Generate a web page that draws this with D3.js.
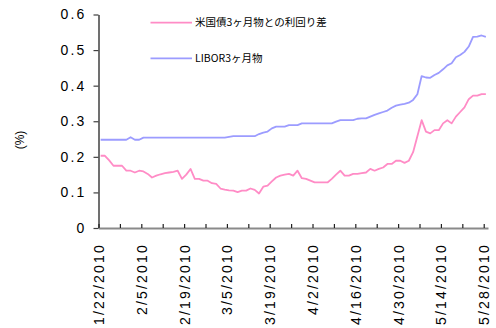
<!DOCTYPE html>
<html>
<head>
<meta charset="utf-8">
<script src="https://cdn.jsdelivr.net/npm/d3@7"></script>
<style>
  body { margin: 0; background: #fff; }
  svg { display: block; }
</style>
</head>
<body>
<svg id="chart" width="496" height="328"></svg>
<script>
// Business days, 2010
const dates = [
  "1/22","1/25","1/26","1/27","1/28","1/29",
  "2/1","2/2","2/3","2/4","2/5","2/8","2/9","2/10","2/11","2/12",
  "2/15","2/16","2/17","2/18","2/19","2/22","2/23","2/24","2/25","2/26",
  "3/1","3/2","3/3","3/4","3/5","3/8","3/9","3/10","3/11","3/12",
  "3/15","3/16","3/17","3/18","3/19","3/22","3/23","3/24","3/25","3/26",
  "3/29","3/30","3/31",
  "4/1","4/2","4/5","4/6","4/7","4/8","4/9","4/12","4/13","4/14","4/15","4/16",
  "4/19","4/20","4/21","4/22","4/23","4/26","4/27","4/28","4/29","4/30",
  "5/3","5/4","5/5","5/6","5/7","5/10","5/11","5/12","5/13","5/14",
  "5/17","5/18","5/19","5/20","5/21","5/24","5/25","5/26","5/27","5/28"
];

// Spread over 3-month Treasury bills (%)
const spread = [
  0.203,0.203,0.190,0.175,0.175,0.175,0.161,0.161,0.156,0.161,
  0.159,0.152,0.142,0.147,0.151,0.154,0.156,0.158,0.161,0.138,
  0.150,0.166,0.138,0.138,0.133,0.133,0.126,0.124,0.111,0.108,
  0.106,0.105,0.101,0.105,0.105,0.111,0.107,0.097,0.116,0.119,
  0.131,0.142,0.147,0.150,0.152,0.147,0.161,0.140,0.138,0.133,
  0.128,0.128,0.128,0.128,0.138,0.150,0.161,0.147,0.147,0.152,
  0.152,0.154,0.156,0.166,0.161,0.166,0.170,0.180,0.180,0.189,
  0.189,0.183,0.189,0.213,0.258,0.303,0.271,0.266,0.275,0.275,
  0.294,0.303,0.294,0.313,0.326,0.339,0.362,0.372,0.372,0.376,
  0.376
];

// 3-month USD LIBOR (%)
const libor = [
  0.248,0.248,0.248,0.248,0.248,0.248,0.248,0.255,0.248,0.248,
  0.254,0.254,0.254,0.254,0.254,0.254,0.254,0.254,0.254,0.254,
  0.254,0.254,0.254,0.254,0.254,0.254,0.254,0.254,0.254,0.254,
  0.256,0.258,0.258,0.258,0.258,0.258,0.258,0.264,0.268,0.271,
  0.280,0.285,0.285,0.285,0.289,0.289,0.289,0.294,0.294,0.294,
  0.294,0.294,0.294,0.294,0.294,0.299,0.303,0.303,0.303,0.303,
  0.307,0.308,0.308,0.313,0.318,0.322,0.326,0.330,0.338,0.344,
  0.347,0.349,0.352,0.360,0.376,0.427,0.423,0.422,0.430,0.436,
  0.446,0.457,0.463,0.480,0.486,0.495,0.510,0.537,0.538,0.541,
  0.537
];

const yTicks = [0, 0.1, 0.2, 0.3, 0.4, 0.5, 0.6];
const seriesNames = ["米国債3ヶ月物との利回り差", "LIBOR3ヶ月物"];
const seriesColors = ["#ff8cc6", "#9c9cff"];
const yTitle = "(%)";

const svg = d3.select("#chart");
const plotLeft = 98.5, plotRight = 488, plotTop = 14.5, plotBottom = 228;

// category slots: one per business day, ticks on slot boundaries
const x = d3.scaleLinear().domain([0, dates.length]).range([plotLeft, plotRight]);
const y = d3.scaleLinear().domain([0, 0.6]).range([plotBottom, plotTop]);
const numFont = "'Liberation Sans', Arial, sans-serif";

// y axis
const yAxis = svg.append("g")
  .attr("transform", `translate(${plotLeft},0)`)
  .call(d3.axisLeft(y).tickValues(yTicks).tickSizeInner(5).tickSizeOuter(0)
    .tickPadding(7)
    .tickFormat(d => d === 0 ? "0" : d3.format(".1f")(d)));
yAxis.select(".domain").attr("stroke", "#404040").attr("stroke-width", 1.5);
yAxis.selectAll(".tick line").attr("stroke", "#404040").attr("stroke-width", 1.2);
yAxis.selectAll(".tick text")
  .attr("fill", "#000")
  .style("font-family", numFont)
  .style("font-size", "14px")
  .style("letter-spacing", "2.2px");

// x axis
const xAxis = svg.append("g")
  .attr("transform", `translate(0,${plotBottom})`)
  .call(d3.axisBottom(x).tickValues(d3.range(0, dates.length, 5))
    .tickSizeInner(-4).tickSizeOuter(0)
    .tickFormat(i => i % 10 === 0 ? dates[i] + "/2010" : ""));
xAxis.select(".domain").attr("stroke", "#8a8a8a").attr("stroke-width", 2);
xAxis.selectAll(".tick line").attr("stroke", "#202020").attr("stroke-width", 1.2);
xAxis.selectAll(".tick text")
  .attr("fill", "#000")
  .attr("transform", "rotate(-90)")
  .attr("x", -15)
  .attr("y", 0)
  .attr("dy", "0.36em")
  .style("text-anchor", "end")
  .style("font-family", numFont)
  .style("font-size", "14px")
  .style("letter-spacing", "2.2px");

// y title
svg.append("text")
  .attr("transform", "translate(20,140) rotate(-90)")
  .attr("text-anchor", "middle")
  .attr("dy", "0.35em")
  .style("font-family", numFont)
  .style("font-size", "12px")
  .text(yTitle);

// series lines
const line = d3.line()
  .x((d, i) => x(i + 0.5))
  .y(d => y(d));

[spread, libor].forEach((s, k) => {
  svg.append("path")
    .datum(s)
    .attr("fill", "none")
    .attr("stroke", seriesColors[k])
    .attr("stroke-width", 1.8)
    .attr("stroke-linejoin", "round")
    .attr("d", line);
});

// legend
const legendY = [22.7, 58.3];
const legend = svg.append("g");
seriesNames.forEach((name, k) => {
  legend.append("line")
    .attr("x1", 150.5).attr("x2", 192)
    .attr("y1", legendY[k]).attr("y2", legendY[k])
    .attr("stroke", seriesColors[k]).attr("stroke-width", 1.8);
  legend.append("text")
    .attr("x", 195).attr("y", legendY[k])
    .attr("dy", "0.36em")
    .style("font-family", "'Noto Sans CJK JP', sans-serif")
    .style("font-size", "10.5px")
    .attr("fill", "#000")
    .text(name);
});
</script>
</body>
</html>
